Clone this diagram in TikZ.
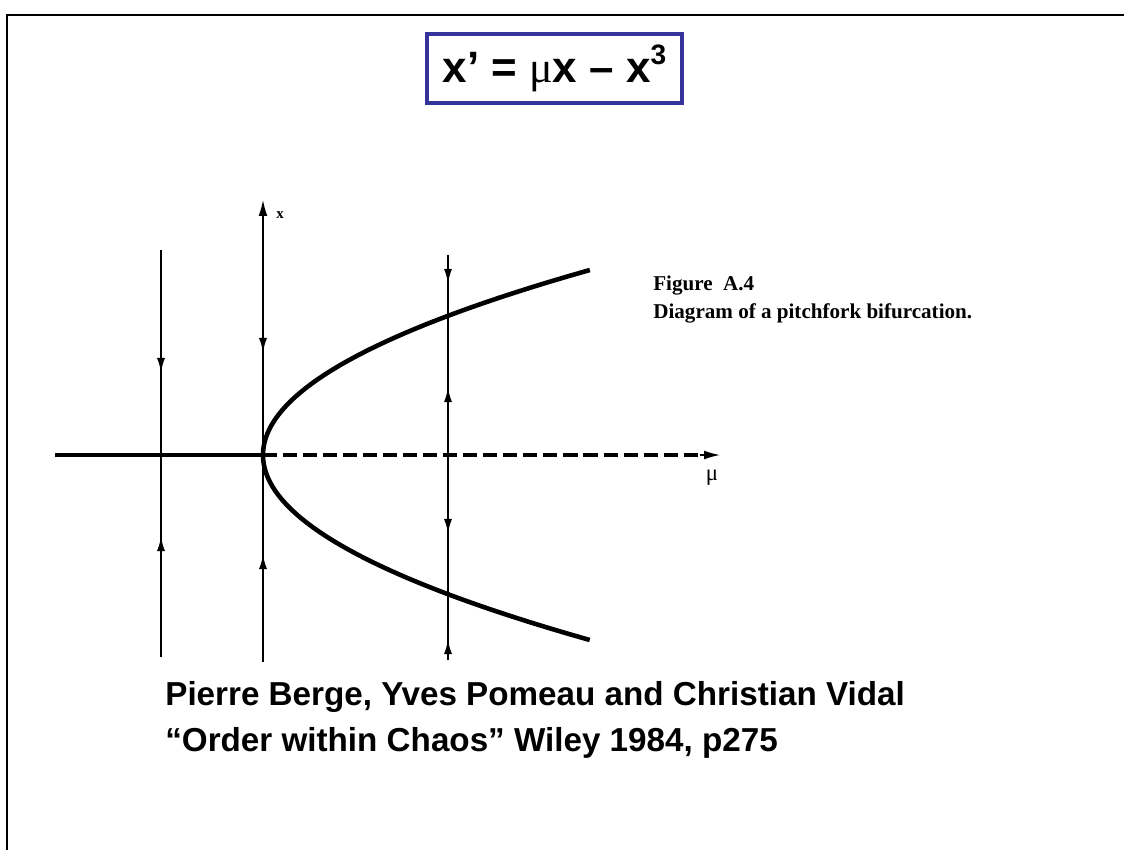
\documentclass[tikz,border=0pt]{standalone}
\usepackage{fontspec}
\setmainfont{Liberation Serif}
\newfontfamily\arialfont{Liberation Sans}
\usetikzlibrary{arrows.meta}
\definecolor{boxblue}{HTML}{333399}

\begin{document}
\begin{tikzpicture}[x=0.02cm, y=-0.02cm,
    flow/.style={line width=0.8pt},
    branch/.style={line width=2.6pt},
    tip/.style={-{Latex[length=8pt, width=4.6pt]}, line width=0.8pt}]
  \useasboundingbox (0,0) rectangle (1124,850);
  % slide frame
  \draw[line width=1.2pt] (7,850) -- (7,15) -- (1124,15);
  % equation
  \node[draw=boxblue, line width=1.8pt, minimum width=5.1cm, minimum height=1.38cm,
        font=\arialfont\bfseries\fontsize{25}{29}\selectfont] (eqn) at (554.5,68.5)
        {x’ = {\mdseries\rmfamily μ}x – x\raisebox{0.42em}{\fontsize{16}{18}\selectfont 3}};
  % axes
  \coordinate (o) at (263,455);
  \coordinate (xtop) at (263,200);
  \coordinate (xbot) at (263,662);
  \coordinate (mul) at (55,455);
  \coordinate (dashend) at (700,455);
  \coordinate (mur) at (720,455);
  \draw[flow, -{Latex[length=9pt, width=5pt]}] (xbot) -- (xtop);
  \node[font=\bfseries\fontsize{8.5}{9}\selectfont] (xlab) at (280,215) {x};
  \draw[flow, -{Latex[length=9pt, width=5pt]}] (dashend) -- (mur);
  \node[font=\fontsize{13}{14}\selectfont] (mulab) at (712,478) {μ};
  \draw[branch] (mul) -- (o);
  \draw[branch, dash pattern=on 8pt off 3.4pt] (o) -- (dashend);
  % branches of fixed points
  \draw[branch] plot[domain=-1.85:1.85, samples=61, smooth] ({263+95.5*\x*\x},{455+100*\x});
  % flow lines
  \draw[flow] (161,250) -- (161,657);
  \draw[tip] (161,352) -- (161,372);
  \draw[tip] (161,557) -- (161,537);
  \draw[tip] (263,332) -- (263,352);
  \draw[tip] (263,575) -- (263,555);
  \draw[flow] (448,255) -- (448,660);
  \draw[tip] (448,263) -- (448,283);
  \draw[tip] (448,408) -- (448,388);
  \draw[tip] (448,513) -- (448,533);
  \draw[tip] (448,660) -- (448,640);
  % caption
  \node[anchor=base west, inner sep=0, font=\bfseries\fontsize{12}{14}\selectfont] (fig) at (653,290) {Figure\ \ A.4};
  \node[anchor=base west, inner sep=0, font=\bfseries\fontsize{12}{14}\selectfont] (cap) at (653,318) {Diagram of a pitchfork bifurcation.};
  % reference
  \node[anchor=base west, inner sep=0, font=\arialfont\bfseries\fontsize{18.9}{22}\selectfont] (ref1) at (165,705) {Pierre Berge, Yves Pomeau and Christian Vidal};
  \node[anchor=base west, inner sep=0, font=\arialfont\bfseries\fontsize{18.9}{22}\selectfont] (ref2) at (165,751) {“Order within Chaos” Wiley 1984, p275};
\end{tikzpicture}
\end{document}
